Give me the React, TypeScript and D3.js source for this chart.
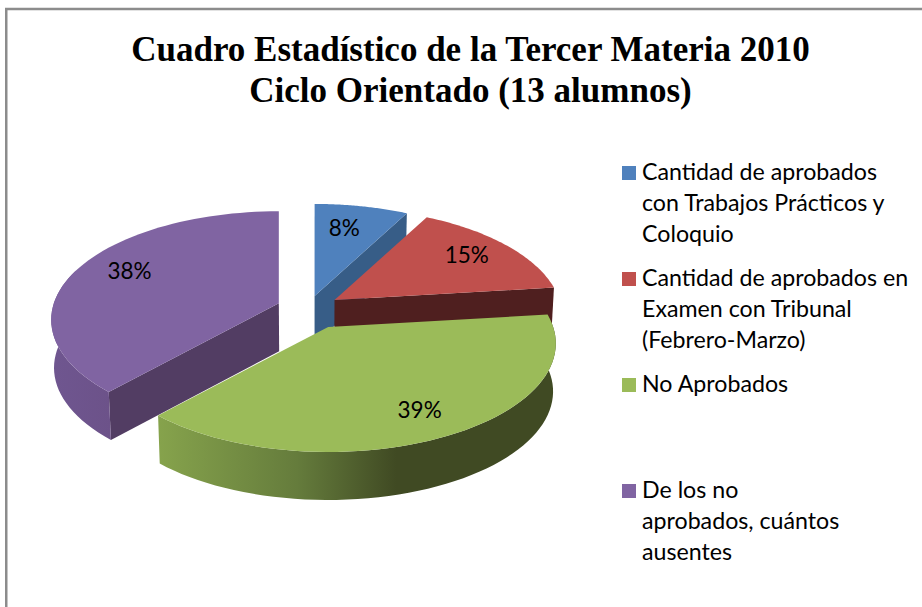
import React from "react";
import * as d3 from "d3";

const titleLines = ["Cuadro Estadístico de la Tercer Materia 2010", "Ciclo Orientado (13 alumnos)"];
const categories = ["Blue", "Red", "Green", "Purple"];
const values = [7.7, 15.4, 38.6, 38.3];
const percentLabels = ["8%", "15%", "39%", "38%"];
const legendLines = [
  ["Cantidad de aprobados", "con Trabajos Prácticos y", "Coloquio"],
  ["Cantidad de aprobados en", "Examen con Tribunal", "(Febrero-Marzo)"],
  ["No Aprobados"],
  ["De los no", "aprobados, cuántos", "ausentes"],
];
const topColors = ["#4f81bd", "#c0504d", "#9bbb59", "#8064a2"];
const radialWallColors = ["#375d87", "#4f1f1f", "#404a23", "#523d63"];
const explosion = [0.125, 0.145, 0.19, 0.14];
const labelRadii = [0.6, 0.76, 0.79, 0.74];
const labelLift = [-11, -2, 0, -5];

const W = 922, H = 607;
const CX = 308, CY = 308.6, RX = 225, RY = 106, K = 0.152, DEPTH = 48;

const project = (r: number, a: number): [number, number] => {
  const X = r * Math.sin(a), Y = r * Math.cos(a), w = 1 + K * Y;
  return [(RX * X) / w, (-RY * Y) / w];
};

const lineGen = d3.line<[number, number]>().x((d) => d[0]).y((d) => d[1]);

const below = ([x, y]: [number, number]): [number, number] => [x + (CX - x) * 0.011, y + DEPTH];

export default function App() {
  const arcs = d3.pie<number>().sort(null)(values);
  const angle = d3.scaleLinear().domain([0, 1]);
  const slices = arcs.map((s, i) => {
    const mid = (s.startAngle + s.endAngle) / 2;
    const off = project(explosion[i], mid);
    const apex: [number, number] = [CX + off[0], CY + off[1]];
    const samples = d3.range(0, 61).map((j) => {
      const a = angle.range([s.startAngle, s.endAngle])(j / 60);
      const p = project(1, a);
      return [apex[0] + p[0], apex[1] + p[1]] as [number, number];
    });
    const top = [apex, ...samples];
    const lp = project(labelRadii[i], mid);
    return { i, apex, samples, top, label: [apex[0] + lp[0], apex[1] + lp[1] + labelLift[i]] };
  });
  const [blue, red, green, purple] = slices;
  const closedPath = (pts: [number, number][]) => lineGen(pts) + "Z";
  const radialWall = (a: [number, number], b: [number, number]) => closedPath([a, b, below(b), below(a)]);
  const outerWall = (pts: [number, number][]) => closedPath([...pts, ...pts.map(below).reverse()]);

  const legendStartY = [172, 278, 384, 490];
  return (
    <svg width={W} height={H} style={{ position: "absolute", left: 0, top: 0, background: "#fff" }}>
      <defs>
        <linearGradient id="greenWall" gradientUnits="userSpaceOnUse" x1={158} x2={555} y1={0} y2={0}>
          <stop offset="0" stopColor="#86a34c" />
          <stop offset="0.35" stopColor="#657c3c" />
          <stop offset="0.6" stopColor="#404a23" />
          <stop offset="1" stopColor="#404a23" />
        </linearGradient>
        <linearGradient id="purpleWall" gradientUnits="userSpaceOnUse" x1={50} x2={112} y1={0} y2={0}>
          <stop offset="0" stopColor="#6f5690" />
          <stop offset="1" stopColor="#6c5289" />
        </linearGradient>
      </defs>
      <path d="M6.25 607V9H922" fill="none" stroke="#8c8c8c" strokeWidth={2.5} />

      {titleLines.map((t, i) => (
        <text key={t} x={470.5} y={61 + i * 40.5} textAnchor="middle" fontFamily="'Liberation Serif'" fontWeight="bold" fontSize={35} fill="#000">
          {t}
        </text>
      ))}

      <path d={radialWall(blue.apex, blue.samples[60])} fill={radialWallColors[0]} />
      <path d={radialWall(blue.apex, blue.samples[0])} fill={radialWallColors[0]} />
      <path d={closedPath(blue.top)} fill={topColors[0]} />

      <path d={radialWall(red.apex, red.samples[60])} fill={radialWallColors[1]} />
      <path d={closedPath(red.top)} fill={topColors[1]} />

      <path d={radialWall(purple.apex, purple.samples[0])} fill={radialWallColors[3]} />
      <path d={outerWall(purple.samples.slice(0, 30))} fill="url(#purpleWall)" />
      <path d={closedPath(purple.top)} fill={topColors[3]} />

      <path d={outerWall(green.samples)} fill="url(#greenWall)" />
      <path d={closedPath(green.top)} fill={topColors[2]} />

      {slices.map((s) => (
        <text key={categories[s.i]} x={s.label[0]} y={s.label[1]} dy="0.35em" textAnchor="middle" fontFamily="Lato" fontSize={22.5} fill="#000">
          {percentLabels[s.i]}
        </text>
      ))}

      {legendLines.map((lines, i) => (
        <g key={i}>
          <rect x={622} y={legendStartY[i] - 6} width={14} height={14} fill={topColors[i]} />
          {lines.map((l, j) => (
            <text key={l} x={642} y={legendStartY[i] + j * 31 + 8} fontFamily="Lato" fontSize={23.2} fill="#000">
              {l}
            </text>
          ))}
        </g>
      ))}
    </svg>
  );
}
